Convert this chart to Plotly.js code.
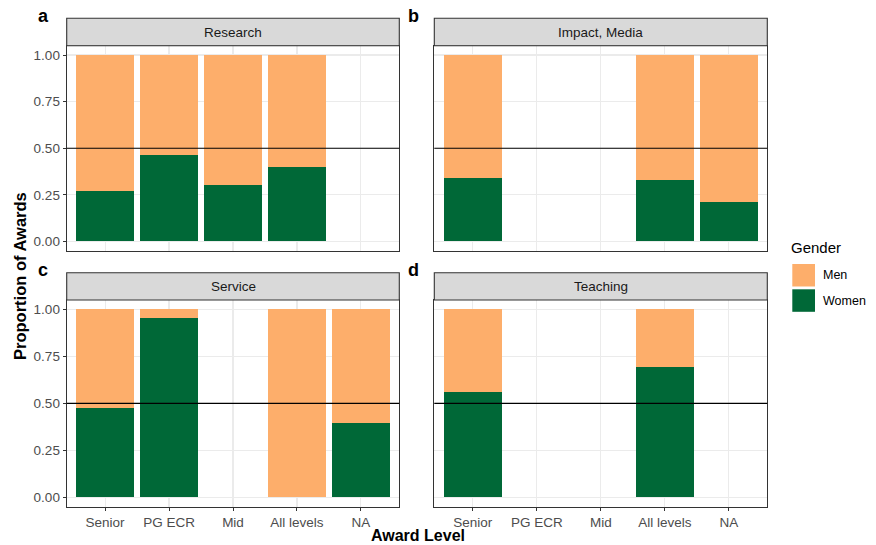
<!DOCTYPE html>
<html>
<head>
<meta charset="utf-8">
<script src="https://cdn.plot.ly/plotly-3.0.1.min.js"></script>
<style>html,body{margin:0;padding:0;background:#fff;}#chart{width:876px;height:545px;}</style>
</head>
<body>
<div id="chart"></div>
<script>
// ---- data ----
const levels = ["Senior", "PG ECR", "Mid", "All levels", "NA"];
const panels = ["Research", "Impact, Media", "Service", "Teaching"];
const panelTags = ["a", "b", "c", "d"];
const womenResearch = [0.27, 0.464, 0.302, 0.398, null];
const womenImpact   = [0.339, null, null, 0.329, 0.213];
const womenService  = [0.474, 0.952, null, 0.0, 0.393];
const womenTeaching = [0.558, null, null, 0.691, null];
const yTicks = [0, 0.25, 0.5, 0.75, 1];
const yTickLabels = ["0.00", "0.25", "0.50", "0.75", "1.00"];
const genders = ["Men", "Women"];
const genderColors = {Men: "#fdae6b", Women: "#006837"};

// ---- layout helpers ----
const W = 876, H = 545;
const px = v => v / W;
const py = v => 1 - v / H;
const colX = [[66.7, 399.3], [434.3, 767.3]];
const rowY = [{strip: [18.3, 45.7], plot: [45.7, 250.7]}, {strip: [272.7, 300], plot: [300, 506.7]}];
const FONT = "Liberation Sans, Arial, sans-serif";

const womenAll = [womenResearch, womenImpact, womenService, womenTeaching];
const traces = [];
const layout = {
  width: W, height: H,
  margin: {l: 0, r: 0, t: 0, b: 0},
  paper_bgcolor: "#ffffff", plot_bgcolor: "#ffffff",
  barmode: "stack", bargap: 0.1,
  showlegend: false,
  font: {family: FONT, color: "#4d4d4d", size: 11},
  shapes: [], annotations: []
};

womenAll.forEach((women, i) => {
  const men = women.map(v => v === null ? null : 1 - v);
  const suf = i === 0 ? "" : String(i + 1);
  const col = i % 2, row = Math.floor(i / 2);
  traces.push({type: "bar", name: "Women", x: levels, y: women, xaxis: "x" + suf, yaxis: "y" + suf,
    marker: {color: genderColors.Women, line: {width: 0}}, hoverinfo: "x+y+name"});
  traces.push({type: "bar", name: "Men", x: levels, y: men, xaxis: "x" + suf, yaxis: "y" + suf,
    marker: {color: genderColors.Men, line: {width: 0}}, hoverinfo: "x+y+name"});

  const bottomRow = row === 1, leftCol = col === 0;
  layout["xaxis" + suf] = {
    domain: [px(colX[col][0]), px(colX[col][1])],
    anchor: "y" + suf, type: "category", categoryorder: "array", categoryarray: levels,
    range: [-0.6, 4.6], showgrid: true, gridcolor: "#ebebeb", gridwidth: 1.1,
    showline: true, linecolor: "#333333", linewidth: 1.1, mirror: true,
    ticks: bottomRow ? "outside" : "", ticklen: 3, tickcolor: "#333333", tickwidth: 1,
    showticklabels: bottomRow, tickfont: {family: FONT, size: 13.5, color: "#4d4d4d"},
    zeroline: false, fixedrange: true
  };
  layout["yaxis" + suf] = {
    domain: [py(rowY[row].plot[1]), py(rowY[row].plot[0])],
    anchor: "x" + suf, range: [-0.05, 1.05],
    tickvals: yTicks, ticktext: yTickLabels,
    showgrid: true, gridcolor: "#ebebeb", gridwidth: 1.1,
    showline: true, linecolor: "#333333", linewidth: 1.1, mirror: true,
    ticks: leftCol ? "outside" : "", ticklen: 3, tickcolor: "#333333", tickwidth: 1,
    showticklabels: leftCol, tickfont: {family: FONT, size: 13.5, color: "#4d4d4d"},
    zeroline: false, fixedrange: true
  };
  // reference line at 0.5
  layout.shapes.push({type: "line", xref: "x" + suf + " domain", yref: "y" + suf,
    x0: 0, x1: 1, y0: 0.5, y1: 0.5, line: {color: "#000000", width: 1.1}, layer: "above"});
  // strip
  layout.shapes.push({type: "rect", xref: "paper", yref: "paper",
    x0: px(colX[col][0]), x1: px(colX[col][1]), y0: py(rowY[row].strip[1]), y1: py(rowY[row].strip[0]),
    fillcolor: "#d9d9d9", line: {color: "#333333", width: 1.1}});
  layout.annotations.push({xref: "paper", yref: "paper",
    x: px((colX[col][0] + colX[col][1]) / 2), y: py((rowY[row].strip[0] + rowY[row].strip[1]) / 2),
    text: panels[i], showarrow: false, xanchor: "center", yanchor: "middle",
    font: {family: FONT, size: 13.5, color: "#1a1a1a"}});
  // panel tag
  layout.annotations.push({xref: "paper", yref: "paper",
    x: px(col === 0 ? 43 : 413), y: py(row === 0 ? 16 : 270),
    text: "<b>" + panelTags[i] + "</b>", showarrow: false, xanchor: "center", yanchor: "middle",
    font: {family: FONT, size: 18, color: "#000000"}});
});

// axis titles
layout.annotations.push({xref: "paper", yref: "paper", x: px(20), y: py(276),
  text: "<b>Proportion of Awards</b>", textangle: -90, showarrow: false,
  xanchor: "center", yanchor: "middle", font: {family: FONT, size: 16.5, color: "#000000"}});
layout.annotations.push({xref: "paper", yref: "paper", x: px(418), y: py(535),
  text: "<b>Award Level</b>", showarrow: false, borderpad: 0,
  xanchor: "center", yanchor: "middle", font: {family: FONT, size: 16, color: "#000000"}});

// legend (drawn manually to match key size)
layout.annotations.push({xref: "paper", yref: "paper", x: px(789), y: py(247),
  text: "Gender", showarrow: false, xanchor: "left", yanchor: "middle",
  font: {family: FONT, size: 15, color: "#000000"}});
genders.forEach((g, k) => {
  const top = 264 + k * 25.3;
  layout.shapes.push({type: "rect", xref: "paper", yref: "paper",
    x0: px(792.3), x1: px(815), y0: py(top + 22.5), y1: py(top),
    fillcolor: genderColors[g], line: {width: 0}});
  layout.annotations.push({xref: "paper", yref: "paper", x: px(820.5), y: py(top + 11.3),
    text: g, showarrow: false, xanchor: "left", yanchor: "middle",
    font: {family: FONT, size: 12.5, color: "#000000"}});
});

Plotly.newPlot("chart", traces, layout, {staticPlot: true, displayModeBar: false});
</script>
</body>
</html>
